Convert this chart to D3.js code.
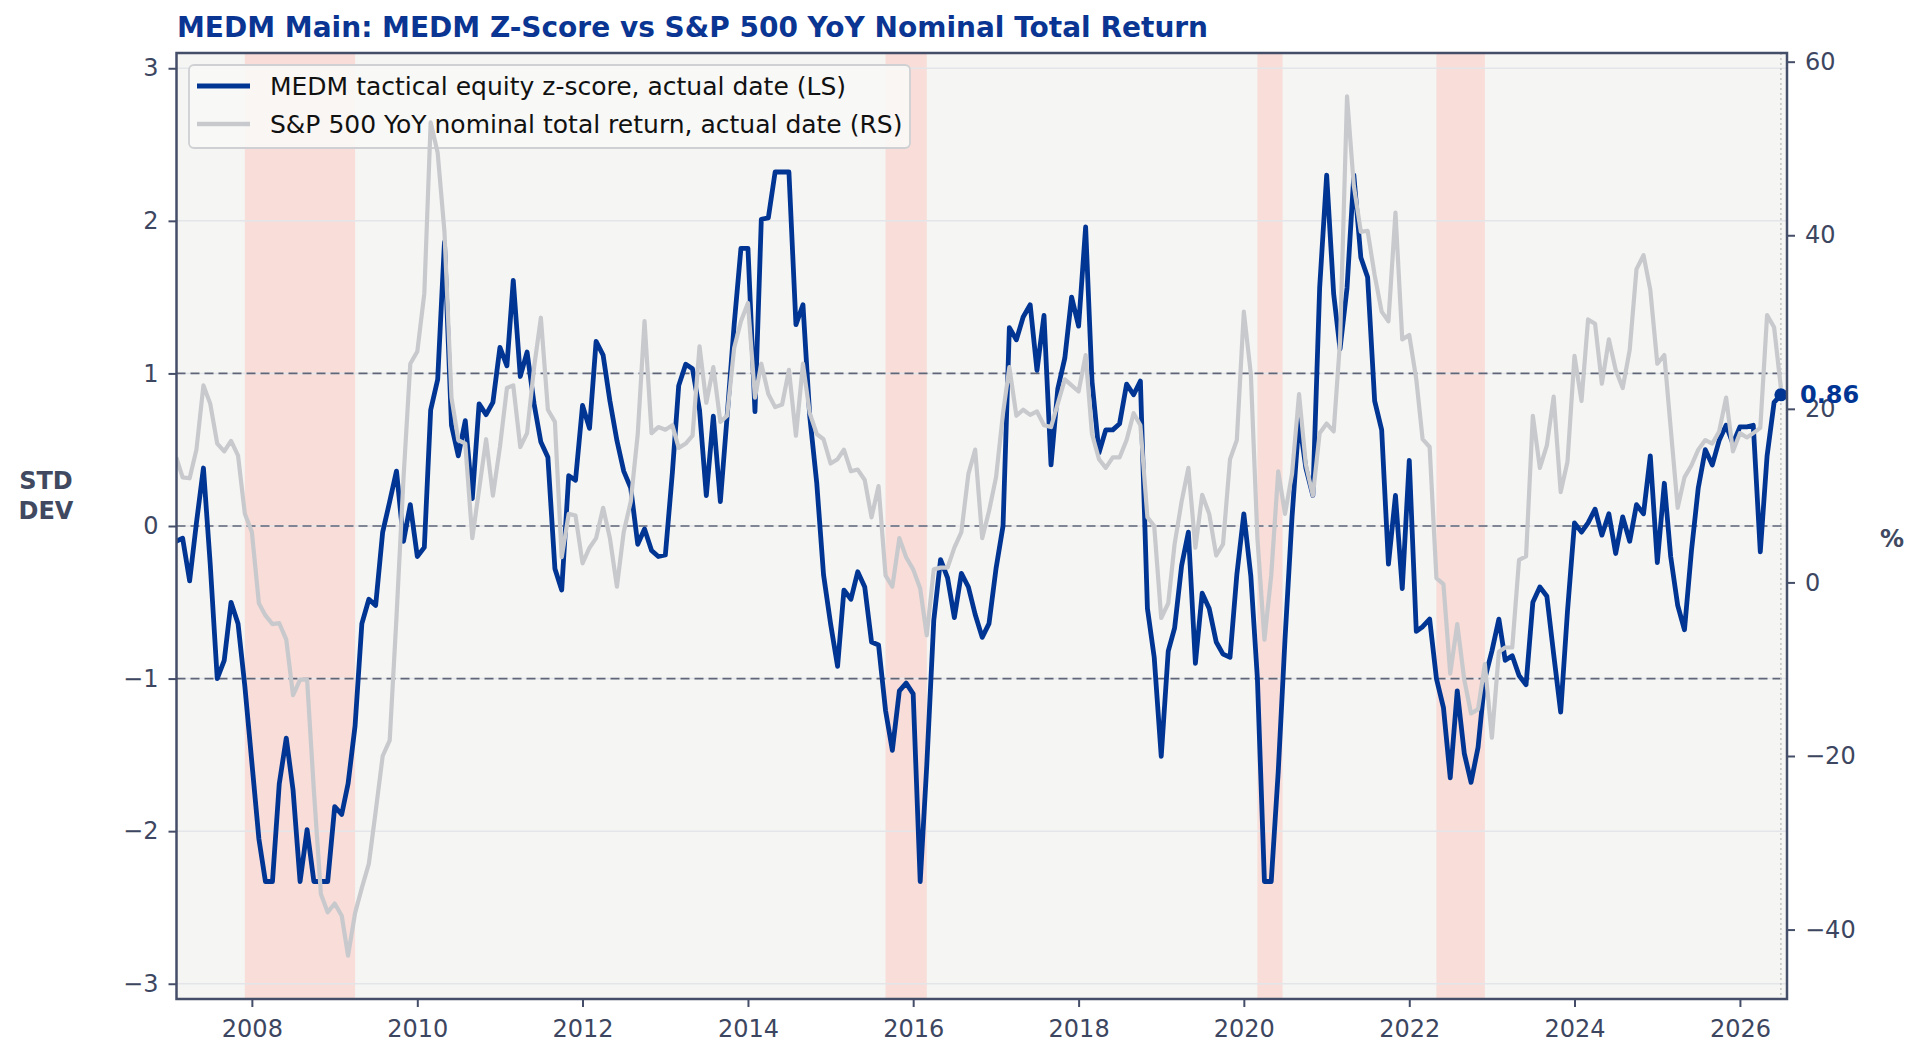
<!DOCTYPE html>
<html>
<head>
<meta charset="utf-8">
<script src="https://cdn.jsdelivr.net/npm/d3@7"></script>
<style>
  body { margin: 0; background: #ffffff; }
  svg { display: block; font-family: "DejaVu Sans", sans-serif; }
</style>
</head>
<body>
<svg id="chart" width="1922" height="1062"></svg>
<script>
// ---- data (monthly, first observation Feb 2007) ----
var firstObs = [2007, 1]; // year, month index (0 = Jan)

// MEDM tactical equity z-score (left axis, std dev)
var zScore = [
  -0.10, -0.08, -0.36, 0.02, 0.38, -0.25, -1.00, -0.88, -0.50, -0.64, -1.05,            // 2007
  -1.55, -2.05, -2.33, -2.33, -1.69, -1.39, -1.73, -2.33, -1.99, -2.33, -2.33, -2.33,   // 2008
  -1.84, -1.89, -1.69, -1.31, -0.64, -0.48, -0.52, -0.04, 0.16, 0.36, -0.10, 0.14,      // 2009
  -0.20, -0.14, 0.76, 0.96, 1.86, 0.66, 0.46, 0.69, 0.18, 0.80, 0.73, 0.81,             // 2010
  1.17, 1.05, 1.61, 0.98, 1.14, 0.80, 0.55, 0.45, -0.28, -0.42, 0.33, 0.30,             // 2011
  0.79, 0.64, 1.21, 1.12, 0.82, 0.56, 0.36, 0.25, -0.12, -0.02, -0.16, -0.20,           // 2012
  -0.19, 0.35, 0.92, 1.06, 1.03, 0.76, 0.20, 0.72, 0.16, 0.72, 1.32, 1.82,              // 2013
  1.82, 0.75, 2.01, 2.02, 2.32, 2.32, 2.32, 1.32, 1.45, 0.72, 0.28, -0.32,              // 2014
  -0.64, -0.92, -0.42, -0.48, -0.30, -0.40, -0.76, -0.78, -1.21, -1.47, -1.08, -1.03,   // 2015
  -1.10, -2.33, -1.57, -0.62, -0.22, -0.34, -0.60, -0.31, -0.40, -0.58, -0.73, -0.64,   // 2016
  -0.28, 0.00, 1.30, 1.22, 1.37, 1.45, 1.02, 1.38, 0.40, 0.90, 1.10, 1.50,              // 2017
  1.31, 1.96, 0.95, 0.48, 0.63, 0.63, 0.67, 0.93, 0.86, 0.95, -0.54, -0.86,             // 2018
  -1.51, -0.82, -0.67, -0.26, -0.04, -0.90, -0.44, -0.54, -0.76, -0.84, -0.86, -0.32,   // 2019
  0.08, -0.33, -1.00, -2.33, -2.33, -1.61, -0.74, 0.06, 0.70, 0.38, 0.20, 1.56,         // 2020
  2.30, 1.52, 1.16, 1.56, 2.30, 1.76, 1.63, 0.82, 0.63, -0.25, 0.20, -0.41,             // 2021
  0.43, -0.69, -0.66, -0.61, -1.00, -1.19, -1.65, -1.08, -1.49, -1.68, -1.45, -1.00,    // 2022
  -0.82, -0.61, -0.88, -0.85, -0.98, -1.04, -0.50, -0.40, -0.46, -0.84, -1.22, -0.56,   // 2023
  0.02, -0.04, 0.02, 0.11, -0.06, 0.08, -0.18, 0.06, -0.10, 0.14, 0.08, 0.46,           // 2024
  -0.24, 0.28, -0.20, -0.52, -0.68, -0.16, 0.25, 0.50, 0.40, 0.56, 0.66, 0.54,          // 2025
  0.65, 0.65, 0.66, -0.17, 0.46, 0.81, 0.86                                            // 2026
];

// S&P 500 YoY nominal total return, % (right axis)
var spxYoY = [
  14.4, 12.1, 12.0, 15.3, 22.7, 20.6, 16.0, 15.1, 16.3, 14.6, 7.9,                      // 2007
  5.8, -2.4, -3.8, -4.8, -4.7, -6.6, -13.0, -11.2, -11.2, -24.0, -35.9, -38.0,          // 2008
  -37.0, -38.4, -43.0, -38.1, -35.2, -32.4, -26.4, -20.0, -18.2, -4.0, 12.0, 25.2,      // 2009
  26.6, 33.3, 53.0, 49.5, 40.4, 21.3, 16.4, 16.0, 5.1, 10.7, 16.5, 10.0,                // 2010
  15.6, 22.4, 22.7, 15.6, 17.2, 24.8, 30.5, 19.9, 18.5, 2.9, 7.9, 7.7,                  // 2011
  2.2, 4.0, 5.1, 8.6, 5.1, -0.5, 5.8, 9.3, 17.1, 30.1, 17.2, 17.9,                      // 2012
  17.6, 18.1, 15.5, 16.0, 16.9, 27.2, 20.7, 24.8, 18.5, 19.2, 27.0, 30.1,               // 2013
  32.2, 21.3, 25.2, 21.7, 20.2, 20.5, 24.5, 16.9, 25.2, 19.5, 17.1, 16.5,               // 2014
  13.7, 14.2, 15.3, 12.8, 13.0, 11.8, 7.5, 11.1, 0.8, -0.5, 5.1, 2.9,                   // 2015
  1.5, -0.7, -6.1, 1.5, 1.7, 1.7, 4.0, 5.8, 12.5, 15.3, 5.1, 8.2,                       // 2016
  12.1, 19.5, 24.8, 19.2, 19.9, 19.3, 19.7, 18.1, 17.9, 20.6, 23.4, 22.7,               // 2017
  22.0, 26.2, 17.1, 14.2, 13.2, 14.4, 14.4, 16.4, 19.5, 18.1, 7.5, 6.5,                 // 2018
  -4.1, -2.4, 4.4, 9.3, 13.2, 4.0, 10.1, 7.9, 3.1, 4.4, 14.2, 16.4,                     // 2019
  31.2, 24.0, 5.1, -6.6, 0.8, 12.8, 7.9, 12.5, 21.7, 13.6, 10.0, 17.2,                  // 2020
  18.3, 17.4, 27.7, 56.0, 45.7, 40.4, 40.5, 35.4, 31.2, 30.1, 42.6, 28.0,               // 2021
  28.5, 23.4, 16.5, 15.6, 0.5, -0.2, -10.5, -4.8, -11.2, -15.1, -14.6, -9.4,            // 2022
  -17.9, -8.0, -7.5, -7.5, 2.6, 3.0, 19.2, 13.2, 15.8, 21.4, 10.4, 13.9,                // 2023
  26.1, 20.9, 30.3, 29.8, 22.9, 28.0, 24.5, 22.4, 26.8, 36.1, 37.7, 33.7,               // 2024
  25.2, 26.2, 17.8, 8.6, 12.1, 13.5, 15.3, 16.4, 16.0, 17.4, 21.3, 15.1,                // 2025
  17.2, 16.7, 17.2, 17.8, 30.8, 29.4, 22.4                                             // 2026
];

// shaded periods
var recessions = [
  ["2007-12-01", "2009-04-01"],
  ["2015-09-01", "2016-03-01"],
  ["2020-03-01", "2020-06-20"],
  ["2022-05-01", "2022-12-01"]
];

var leftTicks = [-3, -2, -1, 0, 1, 2, 3];
var rightTicks = [-40, -20, 0, 20, 40, 60];
var yearTicks = [2008, 2010, 2012, 2014, 2016, 2018, 2020, 2022, 2024, 2026];
var refLevels = [-1, 0, 1];
var leftDomain = [-3.1, 3.1];
var rightDomain = [-48.0, 61.0];
var xDomain = ["2007-02-02", "2026-07-28"];

var titleText = "MEDM Main: MEDM Z-Score vs S&P 500 YoY Nominal Total Return";
var legendLabels = ["MEDM tactical equity z-score, actual date (LS)",
                    "S&P 500 YoY nominal total return, actual date (RS)"];

// ---- styling ----
var blue = "#003594", grey = "#c8c9cd", ink = "#3d4660", spine = "#454e69";
var plot = {left: 176.5, right: 1787, top: 53, bottom: 999};

var parse = d3.timeParse("%Y-%m-%d");
function obsDate(i) { return new Date(firstObs[0], firstObs[1] + i, 1); }

var zData = zScore.map(function(v, i){ return {date: obsDate(i), value: v}; });
var sData = spxYoY.map(function(v, i){ return {date: obsDate(i), value: v}; });

var x = d3.scaleTime().domain(xDomain.map(parse)).range([plot.left, plot.right]);
var yL = d3.scaleLinear().domain(leftDomain).range([plot.bottom, plot.top]);
var yR = d3.scaleLinear().domain(rightDomain).range([plot.bottom, plot.top]);

var svg = d3.select("#chart");

svg.append("defs").append("clipPath").attr("id", "clip")
  .append("rect")
  .attr("x", plot.left).attr("y", plot.top)
  .attr("width", plot.right - plot.left).attr("height", plot.bottom - plot.top);

// plot background
svg.append("rect")
  .attr("x", plot.left).attr("y", plot.top)
  .attr("width", plot.right - plot.left).attr("height", plot.bottom - plot.top)
  .attr("fill", "#f5f5f3");

var body = svg.append("g").attr("clip-path", "url(#clip)");

// recession bands
body.selectAll("rect.band")
  .data(recessions)
  .enter().append("rect")
  .attr("class", "band")
  .attr("x", function(d){ return x(parse(d[0])); })
  .attr("width", function(d){ return x(parse(d[1])) - x(parse(d[0])); })
  .attr("y", plot.top).attr("height", plot.bottom - plot.top)
  .attr("fill", "#f8ddd8");

// light grid at the left ticks
body.selectAll("line.grid")
  .data(leftTicks)
  .enter().append("line")
  .attr("class", "grid")
  .attr("x1", plot.left).attr("x2", plot.right)
  .attr("y1", function(d){ return yL(d); }).attr("y2", function(d){ return yL(d); })
  .attr("stroke", "#e4e5e9").attr("stroke-width", 1.5);

// dashed reference lines at -1, 0, +1
body.selectAll("line.ref")
  .data(refLevels)
  .enter().append("line")
  .attr("class", "ref")
  .attr("x1", plot.left).attr("x2", plot.right)
  .attr("y1", function(d){ return yL(d); }).attr("y2", function(d){ return yL(d); })
  .attr("stroke", "#5f6679").attr("stroke-width", 1.6)
  .attr("stroke-dasharray", "9,5");

// dotted marker at the latest observation
var last = zData[zData.length - 1];
body.append("line")
  .attr("x1", x(last.date)).attr("x2", x(last.date))
  .attr("y1", plot.top).attr("y2", plot.bottom)
  .attr("stroke", "#c4c4c4").attr("stroke-width", 1.5)
  .attr("stroke-dasharray", "2,3");

var zLine = d3.line()
  .x(function(d){ return x(d.date); })
  .y(function(d){ return yL(d.value); });
var sLine = d3.line()
  .x(function(d){ return x(d.date); })
  .y(function(d){ return yR(d.value); });

body.append("path")
  .datum(zData)
  .attr("d", zLine)
  .attr("fill", "none")
  .attr("stroke", blue).attr("stroke-width", 4.8)
  .attr("stroke-linejoin", "round");

body.append("circle")
  .attr("cx", x(last.date)).attr("cy", yL(last.value))
  .attr("r", 6.5).attr("fill", blue);

// legend (sits under the right-axis series, like a twin axis)
var legend = svg.append("g");
legend.append("rect")
  .attr("x", 189).attr("y", 65).attr("width", 721).attr("height", 83)
  .attr("rx", 5)
  .attr("fill", "#f8f8f7").attr("fill-opacity", 0.9)
  .attr("stroke", "#cfd0d3").attr("stroke-width", 1.8);

var legendItems = legend.selectAll("g.item")
  .data([{label: legendLabels[0], color: blue, w: 4.8},
         {label: legendLabels[1], color: grey, w: 4.4}])
  .enter().append("g")
  .attr("class", "item")
  .attr("transform", function(d, i){ return "translate(197," + (86 + i * 38) + ")"; });

legendItems.append("line")
  .attr("x1", 0).attr("x2", 53)
  .attr("stroke", function(d){ return d.color; })
  .attr("stroke-width", function(d){ return d.w; });

legendItems.append("text")
  .attr("x", 73).attr("dy", "0.35em")
  .attr("font-size", 25).attr("fill", "#111111")
  .text(function(d){ return d.label; });

// right-axis series
svg.append("g").attr("clip-path", "url(#clip)")
  .append("path")
  .datum(sData)
  .attr("d", sLine)
  .attr("fill", "none")
  .attr("stroke", grey).attr("stroke-width", 4.2)
  .attr("stroke-linejoin", "round");

// frame
svg.append("rect")
  .attr("x", plot.left).attr("y", plot.top)
  .attr("width", plot.right - plot.left).attr("height", plot.bottom - plot.top)
  .attr("fill", "none").attr("stroke", spine).attr("stroke-width", 2.5);

// axes
var fmt = d3.format("d");
var axL = svg.append("g").attr("transform", "translate(" + plot.left + ",0)")
  .call(d3.axisLeft(yL).tickValues(leftTicks).tickFormat(fmt).tickSize(8).tickPadding(10));
var axR = svg.append("g").attr("transform", "translate(" + plot.right + ",0)")
  .call(d3.axisRight(yR).tickValues(rightTicks).tickFormat(fmt).tickSize(8).tickPadding(10));
var axB = svg.append("g").attr("transform", "translate(0," + plot.bottom + ")")
  .call(d3.axisBottom(x).tickValues(yearTicks.map(function(y){ return new Date(y, 0, 1); }))
    .tickFormat(d3.timeFormat("%Y")).tickSize(8).tickPadding(13));

[axL, axR, axB].forEach(function(ax){
  ax.select(".domain").remove();
  ax.selectAll(".tick line").attr("stroke", spine).attr("stroke-width", 2);
  ax.selectAll(".tick text")
    .attr("fill", ink)
    .attr("font-size", 24)
    .attr("font-family", "DejaVu Sans, sans-serif");
});

// axis titles
svg.append("text")
  .attr("x", 46).attr("y", 489)
  .attr("text-anchor", "middle")
  .attr("font-size", 24).attr("font-weight", "bold").attr("fill", "#404960")
  .text("STD");
svg.append("text")
  .attr("x", 46).attr("y", 519)
  .attr("text-anchor", "middle")
  .attr("font-size", 24).attr("font-weight", "bold").attr("fill", "#404960")
  .text("DEV");
svg.append("text")
  .attr("x", 1892).attr("y", 547)
  .attr("text-anchor", "middle")
  .attr("font-size", 24).attr("font-weight", "bold").attr("fill", "#404960")
  .text("%");

// latest value label
svg.append("text")
  .attr("x", 1800).attr("y", yL(last.value))
  .attr("dy", "0.36em")
  .attr("font-size", 24).attr("font-weight", "bold").attr("fill", blue)
  .text(d3.format(".2f")(last.value));

// title
svg.append("text")
  .attr("x", 177).attr("y", 37)
  .attr("font-size", 28).attr("font-weight", "bold").attr("fill", "#0a3592")
  .text(titleText);
</script>
</body>
</html>
